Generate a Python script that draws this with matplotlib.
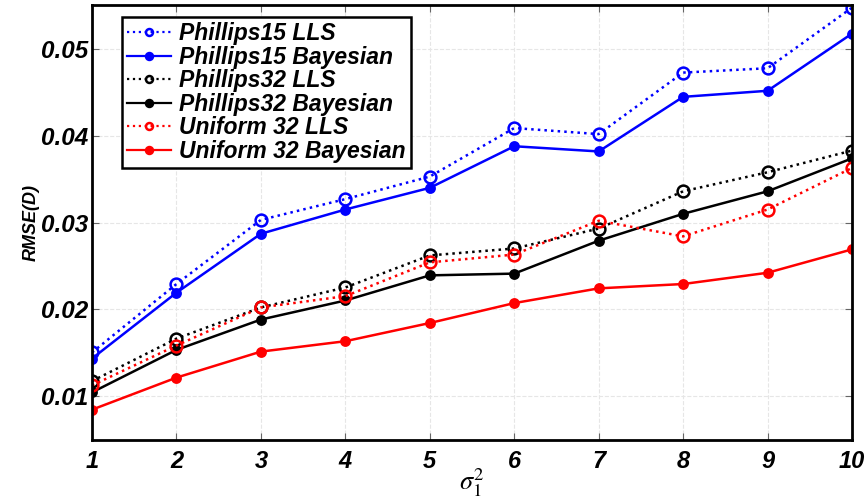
import matplotlib
matplotlib.use("Agg")
import matplotlib.pyplot as plt

sigma_sq = [1, 2, 3, 4, 5, 6, 7, 8, 9, 10]

phillips15_lls = [0.0150, 0.0229, 0.0303, 0.0327, 0.0353, 0.0409, 0.0402, 0.0473, 0.0478, 0.0548]
phillips15_bayes = [0.0143, 0.0219, 0.0287, 0.0315, 0.0340, 0.0388, 0.0382, 0.0445, 0.0452, 0.0518]
phillips32_lls = [0.0117, 0.0166, 0.0202, 0.0225, 0.0262, 0.0270, 0.0293, 0.0336, 0.0358, 0.0383]
phillips32_bayes = [0.0104, 0.0153, 0.0188, 0.0210, 0.0239, 0.0241, 0.0279, 0.0310, 0.0336, 0.0374]
uniform32_lls = [0.0112, 0.0158, 0.0202, 0.0215, 0.0254, 0.0263, 0.0302, 0.0284, 0.0315, 0.0363]
uniform32_bayes = [0.0084, 0.0121, 0.0151, 0.0163, 0.0184, 0.0207, 0.0224, 0.0229, 0.0242, 0.0269]

labels = ["Phillips15 LLS", "Phillips15 Bayesian", "Phillips32 LLS",
          "Phillips32 Bayesian", "Uniform 32 LLS", "Uniform 32 Bayesian"]

yticks = [0.01, 0.02, 0.03, 0.04, 0.05]
ytick_labels = ["0.01", "0.02", "0.03", "0.04", "0.05"]

plt.rcParams['font.family'] = ['Liberation Sans', 'DejaVu Sans']
plt.rcParams['mathtext.fontset'] = 'stix'

fig = plt.figure(figsize=(8.68, 5.0), dpi=100)
ax = fig.add_axes([0.106, 0.12, 0.8756, 0.87])

series = [
    (phillips15_lls, 'blue', ':', 'o', 'none', 8.5),
    (phillips15_bayes, 'blue', '-', 'o', 'blue', 6),
    (phillips32_lls, 'black', ':', 'o', 'none', 8.5),
    (phillips32_bayes, 'black', '-', 'o', 'black', 6),
    (uniform32_lls, 'red', ':', 'o', 'none', 8.5),
    (uniform32_bayes, 'red', '-', 'o', 'red', 6),
]

handles = []
for (vals, col, ls, mk, mfc, ms), lab in zip(series, labels):
    h, = ax.plot(sigma_sq, vals, color=col, linestyle=ls, linewidth=1.8,
                 marker=mk, markerfacecolor=mfc, markeredgecolor=col,
                 markersize=ms, markeredgewidth=1.8, label=lab)
    handles.append(h)

ax.set_xlim(1, 10)
ax.set_ylim(0.0049, 0.0551)
ax.set_xticks(sigma_sq)
ax.set_xticklabels([str(v) for v in sigma_sq], fontsize=17, fontweight='bold',
                   fontstyle='italic')
ax.set_yticks(yticks)
ax.set_yticklabels(ytick_labels, fontsize=17.5, fontweight='bold', fontstyle='italic')

ax.grid(True, color='#e6e6e6', linestyle='--', linewidth=0.8)
ax.tick_params(direction='in', length=5, color='#666666', top=True, right=True)
ax.tick_params(axis='y', pad=3)
ax.tick_params(axis='x', pad=7)
for sp in ax.spines.values():
    sp.set_linewidth(2)
    sp.set_color('black')

ax.set_ylabel("RMSE(D)", fontsize=13, fontweight='bold', fontstyle='italic', labelpad=1)
ax.set_xlabel(r"$\sigma_{\mathit{1}}^{2}$", fontsize=19, labelpad=-5)

leg = ax.legend(handles=handles, loc='upper left', bbox_to_anchor=(0.039, 0.973),
                prop={'weight': 'bold', 'style': 'italic', 'size': 16.5},
                fancybox=False, framealpha=1, edgecolor='black',
                handlelength=1.9, handletextpad=0.35, labelspacing=0.02,
                borderpad=0.25, borderaxespad=0)
leg.get_frame().set_linewidth(1.8)
for lh in leg.get_lines():
    lh.set_markersize(5)
    lh.set_linewidth(1.6)

fig.savefig("out.png", dpi=100)
